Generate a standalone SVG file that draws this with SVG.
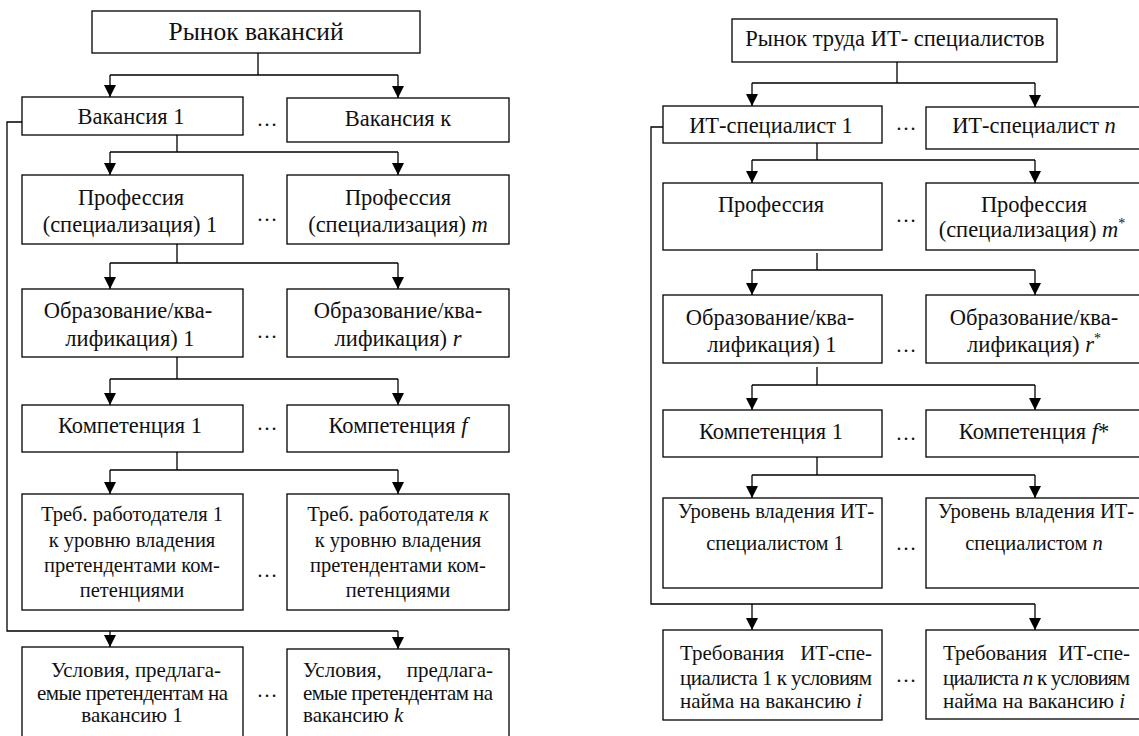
<svg xmlns="http://www.w3.org/2000/svg" width="1139" height="736" viewBox="0 0 1139 736">
<defs>
<style>
.b{fill:#fff;stroke:#000;stroke-width:1.3}
.c{fill:none;stroke:#000;stroke-width:1.3}
text{font-family:"Liberation Serif","Times New Roman",serif;font-size:22.5px;fill:#111}
.m{text-anchor:middle}
.e{text-anchor:end}
.i{font-style:italic}
.s{font-size:20.5px}
.t{font-size:21px}
.sup{font-size:14px}
</style>
<marker id="ar" markerUnits="userSpaceOnUse" markerWidth="13" markerHeight="12" refX="12" refY="6" orient="auto">
<path d="M0,0 L12,6 L0,12 z" fill="#000"/>
</marker>
</defs>
<rect width="1139" height="736" fill="#fff"/>

<g id="connectors">
<path class="c" d="M258,53 V75 M110,75 H398"/>
<path class="c" d="M110,75 V97" marker-end="url(#ar)"/>
<path class="c" d="M398,75 V98" marker-end="url(#ar)"/>
<path class="c" d="M177,135 V152 M110,152 H398"/>
<path class="c" d="M110,152 V175" marker-end="url(#ar)"/>
<path class="c" d="M398,152 V175" marker-end="url(#ar)"/>
<path class="c" d="M177,244 V263 M110,263 H398"/>
<path class="c" d="M110,263 V289" marker-end="url(#ar)"/>
<path class="c" d="M398,263 V289" marker-end="url(#ar)"/>
<path class="c" d="M177,357 V379 M110,379 H398"/>
<path class="c" d="M110,379 V405" marker-end="url(#ar)"/>
<path class="c" d="M398,379 V405" marker-end="url(#ar)"/>
<path class="c" d="M177,452 V470 M110,470 H398"/>
<path class="c" d="M110,470 V494" marker-end="url(#ar)"/>
<path class="c" d="M398,470 V494" marker-end="url(#ar)"/>
<path class="c" d="M22,122 H7 V631 H398"/>
<path class="c" d="M110,631 V647" marker-end="url(#ar)"/>
<path class="c" d="M398,631 V649" marker-end="url(#ar)"/>

<path class="c" d="M897,62 V83 M752,83 H1035"/>
<path class="c" d="M752,83 V106" marker-end="url(#ar)"/>
<path class="c" d="M1035,83 V107" marker-end="url(#ar)"/>
<path class="c" d="M817,143 V160 M752,160 H1035"/>
<path class="c" d="M752,160 V183" marker-end="url(#ar)"/>
<path class="c" d="M1035,160 V183" marker-end="url(#ar)"/>
<path class="c" d="M817,253 V270 M752,270 H1035"/>
<path class="c" d="M752,270 V295" marker-end="url(#ar)"/>
<path class="c" d="M1035,270 V295" marker-end="url(#ar)"/>
<path class="c" d="M817,367 V385 M752,385 H1035"/>
<path class="c" d="M752,385 V410" marker-end="url(#ar)"/>
<path class="c" d="M1035,385 V410" marker-end="url(#ar)"/>
<path class="c" d="M817,457 V475 M752,475 H1035"/>
<path class="c" d="M752,475 V498" marker-end="url(#ar)"/>
<path class="c" d="M1035,475 V498" marker-end="url(#ar)"/>
<path class="c" d="M663,127 H651 V604 H1035"/>
<path class="c" d="M752,604 V630" marker-end="url(#ar)"/>
<path class="c" d="M1035,604 V630" marker-end="url(#ar)"/>
</g>

<g id="dots">
<text class="m t" x="267" y="126">…</text>
<text class="m t" x="267" y="221">…</text>
<text class="m t" x="267" y="338">…</text>
<text class="m t" x="267" y="430">…</text>
<text class="m t" x="267" y="577">…</text>
<text class="m t" x="267" y="697">…</text>
<text class="m t" x="906" y="130">…</text>
<text class="m t" x="906" y="222">…</text>
<text class="m t" x="906" y="352">…</text>
<text class="m t" x="906" y="440">…</text>
<text class="m t" x="906" y="550">…</text>
<text class="m t" x="906" y="682">…</text>
</g>

<g id="market-vacancies">
<rect class="b" x="92" y="11" width="328" height="42"/>
<text class="m" x="256" y="40" style="font-size:25.5px">Рынок вакансий</text>
</g>
<g id="vacancy-1">
<rect class="b" x="22" y="97" width="221" height="38"/>
<text class="m" x="131" y="124">Вакансия 1</text>
</g>
<g id="vacancy-k">
<rect class="b" x="287" y="98" width="222" height="44"/>
<text class="m" x="398" y="126">Вакансия к</text>
</g>
<g id="profession-1">
<rect class="b" x="22" y="175" width="221" height="69"/>
<text class="m" x="131" y="205">Профессия</text>
<text class="m" x="130" y="232">(специализация) 1</text>
</g>
<g id="profession-m">
<rect class="b" x="287" y="175" width="222" height="69"/>
<text class="m" x="398" y="205">Профессия</text>
<text class="m" x="398" y="232">(специализация) <tspan class="i">m</tspan></text>
</g>
<g id="education-1">
<rect class="b" x="22" y="289" width="221" height="68"/>
<text class="m" x="128" y="318">Образование/ква-</text>
<text class="m" x="130" y="346">лификация) 1</text>
</g>
<g id="education-r">
<rect class="b" x="287" y="289" width="222" height="68"/>
<text class="m" x="398" y="318">Образование/ква-</text>
<text class="m" x="398" y="346">лификация) <tspan class="i">r</tspan></text>
</g>
<g id="competence-1">
<rect class="b" x="22" y="405" width="221" height="47"/>
<text class="m" x="130" y="433">Компетенция 1</text>
</g>
<g id="competence-f">
<rect class="b" x="287" y="405" width="222" height="47"/>
<text class="m" x="398" y="433">Компетенция  <tspan class="i">f</tspan></text>
</g>
<g id="employer-req-1">
<rect class="b" x="22" y="494" width="221" height="116"/>
<text class="m s" x="132" y="521">Треб. работодателя 1</text>
<text class="m s" x="132" y="547">к уровню владения</text>
<text class="m s" x="132" y="572">претендентами ком-</text>
<text class="m s" x="132" y="597">петенциями</text>
</g>
<g id="employer-req-k">
<rect class="b" x="287" y="494" width="222" height="116"/>
<text class="m s" x="398" y="521">Треб. работодателя <tspan class="i">к</tspan></text>
<text class="m s" x="398" y="547">к уровню владения</text>
<text class="m s" x="398" y="572">претендентами ком-</text>
<text class="m s" x="398" y="597">петенциями</text>
</g>
<g id="conditions-1">
<rect class="b" x="22" y="647" width="221" height="95"/>
<text class="m t" x="136" y="677">Условия, предлага-</text>
<text class="t" x="37" y="700" textLength="191" lengthAdjust="spacing">емые претендентам на</text>
<text class="m t" x="132" y="722">вакансию 1</text>
</g>
<g id="conditions-k">
<rect class="b" x="287" y="649" width="222" height="95"/>
<text class="t" x="303" y="677">Условия,</text>
<text class="e t" x="493" y="677">предлага-</text>
<text class="t" x="303" y="700" textLength="190" lengthAdjust="spacing">емые претендентам на</text>
<text class="t" x="303" y="722">вакансию <tspan class="i">k</tspan></text>
</g>

<g id="it-labour-market">
<rect class="b" x="732" y="19" width="325" height="43"/>
<text class="m" x="895" y="46">Рынок труда ИТ- специалистов</text>
</g>
<g id="it-specialist-1">
<rect class="b" x="663" y="106" width="219" height="37"/>
<text class="m" x="771" y="133">ИТ-специалист 1</text>
</g>
<g id="it-specialist-n">
<rect class="b" x="926" y="107" width="220" height="42"/>
<text class="m" x="1034" y="133">ИТ-специалист <tspan class="i">n</tspan></text>
</g>
<g id="profession-it-1">
<rect class="b" x="663" y="183" width="219" height="67"/>
<text class="m" x="771" y="212">Профессия</text>
</g>
<g id="profession-it-m">
<rect class="b" x="926" y="183" width="220" height="67"/>
<text class="m" x="1034" y="212">Профессия</text>
<text class="m" x="1032" y="237">(специализация)  <tspan class="i">m</tspan><tspan class="sup" dy="-9">*</tspan></text>
</g>
<g id="education-it-1">
<rect class="b" x="663" y="295" width="219" height="68"/>
<text class="m" x="770" y="325">Образование/ква-</text>
<text class="m" x="772" y="352">лификация) 1</text>
</g>
<g id="education-it-r">
<rect class="b" x="926" y="295" width="220" height="68"/>
<text class="m" x="1034" y="325">Образование/ква-</text>
<text class="m" x="1034" y="352">лификация) <tspan class="i">r</tspan><tspan class="sup" dy="-9">*</tspan></text>
</g>
<g id="competence-it-1">
<rect class="b" x="663" y="410" width="219" height="47"/>
<text class="m" x="771" y="439">Компетенция 1</text>
</g>
<g id="competence-it-f">
<rect class="b" x="926" y="410" width="220" height="47"/>
<text class="m" x="1034" y="439">Компетенция  <tspan class="i">f</tspan>*</text>
</g>
<g id="level-1">
<rect class="b" x="663" y="498" width="219" height="90"/>
<text class="m s" x="776" y="518">Уровень владения ИТ-</text>
<text class="m s" x="775" y="550">специалистом 1</text>
</g>
<g id="level-n">
<rect class="b" x="926" y="498" width="220" height="90"/>
<text class="m s" x="1036" y="518">Уровень владения ИТ-</text>
<text class="m s" x="1034" y="550">специалистом <tspan class="i">n</tspan></text>
</g>
<g id="it-req-1">
<rect class="b" x="663" y="630" width="219" height="90"/>
<text class="t" x="680" y="660">Требования</text>
<text class="e t" x="872" y="660">ИТ-спе-</text>
<text class="t" x="680" y="685" textLength="192" lengthAdjust="spacing">циалиста 1 к условиям</text>
<text class="t" x="680" y="708">найма на вакансию <tspan class="i">i</tspan></text>
</g>
<g id="it-req-n">
<rect class="b" x="926" y="630" width="220" height="89"/>
<text class="t" x="943" y="660">Требования</text>
<text class="e t" x="1130" y="660">ИТ-спе-</text>
<text class="t" x="943" y="685" textLength="187" lengthAdjust="spacing">циалиста <tspan class="i">n</tspan> к условиям</text>
<text class="t" x="943" y="708">найма на вакансию <tspan class="i">i</tspan></text>
</g>
</svg>
